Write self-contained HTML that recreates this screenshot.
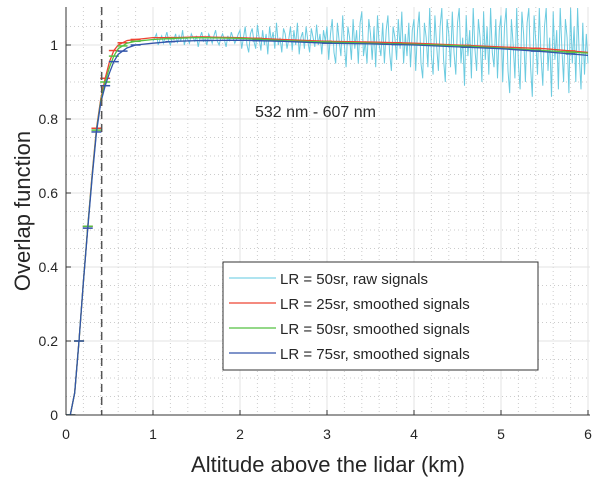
<!DOCTYPE html>
<html><head><meta charset="utf-8">
<style>
body{margin:0;background:#fff;font-family:"Liberation Sans",sans-serif;}
svg text{font-family:"Liberation Sans",sans-serif;fill:#262626;}
</style></head>
<body>
<svg id="chart" width="600" height="481" viewBox="0 0 600 481" xmlns="http://www.w3.org/2000/svg">
<g id="grid"></g>
<g id="series" clip-path="url(#clip)"></g>
<defs><clipPath id="clip"><rect x="66" y="7" width="524" height="408"/></clipPath></defs>
<g id="axes"></g>
<text x="255" y="117" font-size="16">532 nm - 607 nm</text>
<text x="328" y="472" font-size="22" text-anchor="middle">Altitude above the lidar (km)</text>
<text transform="translate(30,211) rotate(-90)" font-size="22" text-anchor="middle">Overlap function</text>
<g>
<rect x="223" y="262" width="315" height="108" fill="#fff" stroke="#333" stroke-width="1"/>
<line x1="229" y1="278" x2="276" y2="278" stroke="#7fd3e6" stroke-width="1.2"/>
<text x="280" y="284" font-size="15">LR = 50sr, raw signals</text>
<line x1="229" y1="303" x2="276" y2="303" stroke="#ee4433" stroke-width="1.2"/>
<text x="280" y="309" font-size="15">LR = 25sr, smoothed signals</text>
<line x1="229" y1="328" x2="276" y2="328" stroke="#55c040" stroke-width="1.2"/>
<text x="280" y="334" font-size="15">LR = 50sr, smoothed signals</text>
<line x1="229" y1="353" x2="276" y2="353" stroke="#3355aa" stroke-width="1.2"/>
<text x="280" y="359" font-size="15">LR = 75sr, smoothed signals</text>
</g>
</svg>
<script>
const xTicks=[0,1,2,3,4,5,6];
const yTicks=[0,0.2,0.4,0.6,0.8,1];
const rawStart=1.0, rawStep=0.02;
const rawValues=[1.01,1.02,1.03,1.0,1.015,1.025,1.005,1.02,1.035,1.01,1.0,1.02,1.015,1.03,1.005,1.025,1.01,1.04,1.0,1.02,1.015,1.005,1.03,1.02,1.01,1.025,0.995,1.02,1.035,1.01,1.015,1.0,1.03,1.02,1.005,1.025,1.04,1.01,1.0,1.02,1.03,1.015,0.995,1.025,1.01,1.035,1.02,1.005,1.015,1.03,
1.04,0.99,1.02,1.05,1.0,0.98,1.03,1.045,1.01,0.99,1.055,1.02,0.985,1.04,1.0,1.03,0.975,1.05,1.01,1.035,0.99,1.06,1.0,1.02,0.98,1.045,1.03,0.99,1.015,1.05,0.985,1.04,1.0,1.06,0.975,1.02,1.035,0.99,1.05,1.01,0.98,1.045,1.02,0.995,1.055,1.0,1.03,0.975,1.04,1.01,
1.05,0.96,1.03,1.07,0.98,0.95,1.06,1.01,0.97,1.08,1.0,0.94,1.05,1.02,0.96,1.07,0.99,1.04,0.95,1.06,1.09,0.97,1.01,0.95,1.07,1.03,0.96,1.05,0.94,1.08,1.0,0.97,1.06,0.95,1.04,1.08,0.98,0.93,1.05,1.02,0.96,1.07,0.99,1.09,0.95,1.03,0.97,1.06,0.94,1.04,
1.07,0.93,1.04,1.09,0.95,0.91,1.06,1.02,0.94,1.1,0.97,0.92,1.08,1.0,0.93,1.05,1.1,0.96,0.9,1.07,1.03,0.94,1.09,0.98,0.92,1.06,1.1,0.95,1.02,0.89,1.08,0.97,1.04,0.91,1.1,0.99,0.93,1.07,1.02,0.9,1.09,0.96,1.05,0.92,1.1,0.98,0.94,1.07,0.91,1.04,
1.08,0.9,1.05,1.1,0.93,0.87,1.07,1.0,0.91,1.1,0.95,0.88,1.09,1.03,0.9,1.06,1.1,0.94,0.86,1.08,1.01,0.92,1.1,0.97,0.89,1.05,1.1,0.93,1.02,0.86,1.09,0.96,1.04,0.88,1.1,0.99,0.9,1.07,1.02,0.87,1.1,0.95,1.05,0.9,1.1,0.97,0.88,1.06,0.92,1.03,0.95];
const altitudes=[0,0.05,0.1,0.15,0.2,0.25,0.3,0.35,0.4,0.45,0.5,0.55,0.6,0.7,0.8,1,1.25,1.5,2,2.5,3,3.5,4,4.5,5,5.5,6];
const lr25=[0,0,0.06,0.2,0.36,0.51,0.65,0.775,0.855,0.91,0.955,0.985,1.0,1.012,1.015,1.02,1.02,1.022,1.02,1.015,1.01,1.008,1.005,1.0,0.995,0.99,0.98];
const lr50=[0,0,0.06,0.2,0.36,0.51,0.645,0.77,0.85,0.9,0.94,0.97,0.99,1.005,1.01,1.015,1.018,1.02,1.018,1.012,1.008,1.005,1.002,0.998,0.992,0.985,0.978];
const lr75=[0,0,0.06,0.2,0.36,0.505,0.64,0.765,0.845,0.89,0.925,0.955,0.975,0.992,1.0,1.005,1.01,1.012,1.013,1.01,1.005,1.003,1.0,0.995,0.99,0.982,0.972];
const markerAlt=[0.05,0.15,0.25,0.35,0.45,0.55,0.65,0.8,1.2,1.6,2.2,3,3.8,4.6,5.4,5.8];
const X=v=>66+v*87, Y=v=>415-v*370;
const NS="http://www.w3.org/2000/svg";
function mk(tag,attrs,parent){const e=document.createElementNS(NS,tag);for(const k in attrs)e.setAttribute(k,attrs[k]);parent.appendChild(e);return e;}
const grid=document.getElementById('grid'), axes=document.getElementById('axes'), ser=document.getElementById('series');
for(let v=0.2;v<6;v+=0.2){if(Math.abs(v-Math.round(v))<1e-6)continue;const l=mk('line',{x1:X(v),x2:X(v),y1:7,y2:415,stroke:'#ccc','stroke-dasharray':'1,3'},grid);}
for(let v=0.05;v<1.1;v+=0.05){if(Math.abs(v*5-Math.round(v*5))<1e-6)continue;const l=mk('line',{x1:66,x2:590,y1:Y(v),y2:Y(v),stroke:'#ccc','stroke-dasharray':'1,3'},grid);}
xTicks.forEach(t=>{const l=mk('line',{x1:X(t),x2:X(t),y1:7,y2:415,stroke:'#e3e3e3'},grid);
const tx=mk('text',{x:X(t),y:439,'font-size':14,'text-anchor':'middle'},axes);tx.textContent=t;
mk('line',{x1:X(t),x2:X(t),y1:415,y2:410,stroke:'#333'},axes);});
yTicks.forEach(t=>{const l=mk('line',{x1:66,x2:590,y1:Y(t),y2:Y(t),stroke:'#e3e3e3'},grid);
const tx=mk('text',{x:58,y:Y(t)+5,'font-size':14,'text-anchor':'end'},axes);tx.textContent=t;
mk('line',{x1:66,x2:71,y1:Y(t),y2:Y(t),stroke:'#333'},axes);});
let d='';rawValues.forEach((v,i)=>{d+=(i?'L':'M')+X(rawStart+i*rawStep).toFixed(1)+','+Y(v).toFixed(1);});
let p=mk('path',{d:d,fill:'none',stroke:'#6ccbe0','stroke-width':1},ser);
function interp(arr,a){for(let i=1;i<altitudes.length;i++){if(a<=altitudes[i]){const f=(a-altitudes[i-1])/(altitudes[i]-altitudes[i-1]);return arr[i-1]+f*(arr[i]-arr[i-1]);}}return arr[arr.length-1];}
[[lr25,'#ee4433','smoothed-lr25'],[lr50,'#55c040','smoothed-lr50'],[lr75,'#3355aa','smoothed-lr75']].forEach(([arr,c,n])=>{
let dd='';arr.forEach((v,i)=>{dd+=(i?'L':'M')+X(altitudes[i]).toFixed(1)+','+Y(v).toFixed(1);});
const q=mk('path',{d:dd,fill:'none',stroke:c,'stroke-width':1.3},ser);
markerAlt.forEach(a=>{const m=mk('line',{x1:X(a)-5,x2:X(a)+5,y1:Y(interp(arr,a)),y2:Y(interp(arr,a)),stroke:c,'stroke-width':1.5},ser);});});
const dl=mk('line',{x1:X(0.41),x2:X(0.41),y1:7,y2:415,stroke:'#555','stroke-width':1.5,'stroke-dasharray':'8,5'},axes);
mk('line',{x1:66,x2:590,y1:415,y2:415,stroke:'#333'},axes);
mk('line',{x1:66,x2:66,y1:7,y2:415,stroke:'#333'},axes);
</script>
</body></html>
